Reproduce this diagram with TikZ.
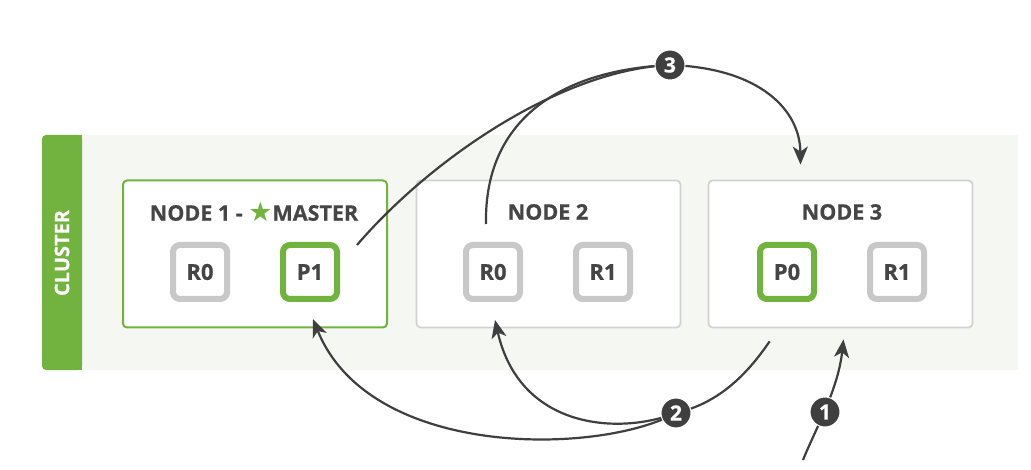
\documentclass[tikz,border=0pt]{standalone}
\usepackage{fontspec}
\setmainfont{Open Sans}[BoldFeatures={FakeBold=0.6}]
\newfontfamily\symfont{DejaVu Sans}
\usetikzlibrary{arrows.meta}
\definecolor{egreen}{HTML}{72B33F}
\definecolor{bgcol}{HTML}{F5F7F3}
\definecolor{gborder}{HTML}{C8C8C8}
\definecolor{nborder}{HTML}{D2D2D2}
\definecolor{txt}{HTML}{454545}
\definecolor{arr}{HTML}{3F3F3F}
\pgfdeclarelayer{front}
\pgfsetlayers{main,front}
\begin{document}
\begin{tikzpicture}[x=1pt,y=-1pt,
 nodebox/.style={draw=nborder, rounded corners=4pt, line width=1.8pt, fill=white, minimum width=264pt, minimum height=147pt, inner sep=0pt},
 shard/.style={draw=gborder, rounded corners=7pt, line width=6pt, fill=white, minimum width=54pt, minimum height=54pt, font=\bfseries\fontsize{22}{22}\selectfont, text=txt, inner sep=0pt},
 prim/.style={shard, draw=egreen},
 title/.style={font=\bfseries\fontsize{21.5}{21.5}\selectfont, text=txt, inner sep=0pt},
 num/.style={circle, fill=arr, draw=white, line width=1pt, minimum size=30pt, inner sep=0pt, text=white, font=\bfseries\fontsize{21}{21}\selectfont},
 conn/.style={draw=arr, line width=2.2pt},
 tip/.style={-{Stealth[length=18pt,width=15pt,inset=5pt]}}
]
\useasboundingbox (0,0) rectangle (1031,470);
\fill[white] (0,0) rectangle (1031,470);
\fill[bgcol] (60,135) rectangle (1018,370);
\fill[egreen, rounded corners=4pt] (42,135) rectangle (82,370);
\fill[egreen] (66,135) rectangle (82,370);
\node[rotate=90, text=white, font=\bfseries\fontsize{20}{20}\selectfont] (cl) at (62,253) {CLUSTER};

\node[nodebox, draw=egreen, line width=2pt] (nb1) at (255,254) {};
\node[nodebox] (nb2) at (548.5,254) {};
\node[nodebox] (nb3) at (840.5,254) {};

\node[title] (t1) at (254,212) {NODE 1 - {\color{egreen}\symfont\fontsize{27}{27}\selectfont\raisebox{-1pt}{★}}MASTER};
\node[title] (t2) at (548,212) {NODE 2};
\node[title] (t3) at (842,212) {NODE 3};

\node[shard] (r0a) at (200,272) {R0};
\node[prim]  (p1)  at (310,272) {P1};
\node[shard] (r0b) at (493,272) {R0};
\node[shard] (r1b) at (603,272) {R1};
\node[prim]  (p0)  at (787,272) {P0};
\node[shard] (r1c) at (897,272) {R1};

\begin{pgfonlayer}{front}
\node[num] (n3) at (670,65) {3};
\node[num] (n2) at (676,413) {2};
\node[num] (n1) at (825,412) {1};
\end{pgfonlayer}
\coordinate (c1) at (803,460);

% step 1
\draw[conn, tip] (c1) .. controls (815,430) and (838,390) .. ([xshift=3pt,yshift=-11pt]nb3.south);
% step 2
\draw[conn] ([xshift=62pt,yshift=-13pt]nb3.south west) .. controls (740,385) and (710,405) .. (n2.center);
\draw[conn, tip] (n2.center) .. controls (600,455) and (370,460) .. ([xshift=3pt,yshift=-17pt]p1.south);
\draw[conn, tip] (n2.center) .. controls (620,435) and (520,430) .. ([xshift=2pt,yshift=-18pt]r0b.south);
% step 3
\draw[conn] ([xshift=17pt,yshift=-3pt]p1.north east) .. controls (430,160) and (560,70) .. (n3.center);
\draw[conn] ([xshift=-7pt,yshift=18pt]r0b.north) .. controls (484,120) and (560,70) .. (n3.center);
\draw[conn, tip] (n3.center) .. controls (760,68) and (800,110) .. ([xshift=-40pt,yshift=15pt]nb3.north);
\end{tikzpicture}
\end{document}
